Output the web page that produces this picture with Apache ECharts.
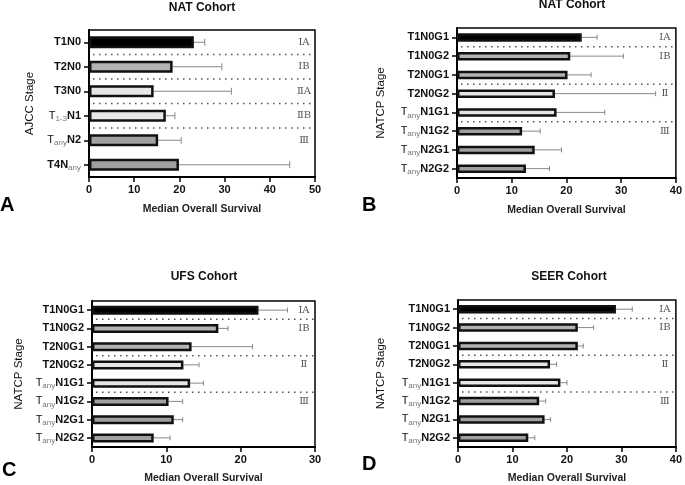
<!DOCTYPE html>
<html>
<head>
<meta charset="utf-8">
<script src="https://cdn.jsdelivr.net/npm/echarts@6/dist/echarts.min.js"></script>
<style>html,body{margin:0;padding:0;background:#fff}#c{width:685px;height:485px}</style>
</head>
<body>
<div id="c"></div>
<script>
// ---- Panel A: NAT Cohort, AJCC ----
const A_cats = ['T1N0','T2N0','T3N0','T_{1-3}N1','T_{any}N2','T4N_{any}'];
const A_vals = [23.2, 18.5, 14.3, 17.0, 15.3, 19.9];
const A_err  = [25.6, 29.4, 31.5, 19.0, 20.4, 44.4];
const A_seps = [0, 1, 2, 3];
const A_stageRows = [0, 1, 2, 3, 4];
const A_stages = ['ⅠA','ⅠB','ⅡA','ⅡB','Ⅲ'];
const A_ticks = [0, 10, 20, 30, 40, 50];

// ---- Panel B: NAT Cohort, NATCP ----
const NATCP_cats = ['T1N0G1','T1N0G2','T2N0G1','T2N0G2','T_{any}N1G1','T_{any}N1G2','T_{any}N2G1','T_{any}N2G2'];
const B_vals = [22.8, 20.7, 20.2, 17.9, 18.2, 11.9, 14.2, 12.6];
const B_err  = [25.6, 30.4, 24.5, 36.3, 27.0, 15.2, 19.1, 16.9];
const B_ticks = [0, 10, 20, 30, 40];

// ---- Panel C: UFS Cohort ----
const C_vals = [22.4, 17.0, 13.4, 12.3, 13.2, 10.3, 11.0, 8.3];
const C_err  = [26.3, 18.3, 21.6, 14.4, 15.0, 12.2, 12.2, 10.5];
const C_ticks = [0, 10, 20, 30];

// ---- Panel D: SEER Cohort ----
const D_vals = [29.0, 22.0, 22.0, 16.9, 18.8, 14.9, 15.9, 12.9];
const D_err  = [32.0, 24.9, 23.0, 18.1, 20.0, 16.1, 17.0, 14.1];
const D_ticks = [0, 10, 20, 30, 40];

const NATCP_seps = [0, 2, 4];
const NATCP_stageRows = [0, 1, 3, 5];
const NATCP_stages = ['ⅠA','ⅠB','Ⅱ','Ⅲ'];

// styles (fill groups)
const A_fill = ['k','g','l','l','d','d'];
const NATCP_fill = ['k','g','g','l','l','d','d','d'];
const fillMap = {k:'#000000', g:'#b3b3b3', l:'#e6e6e6', d:'#a0a0a0'};

const panels = [
  {cats:A_cats, vals:A_vals, err:A_err, seps:A_seps, stageRows:A_stageRows, stages:A_stages, ticks:A_ticks, fill:A_fill,
   title:'NAT Cohort', yName:'AJCC Stage', letter:'A',
   grid:{left:89, right:370, top:30, bottom:308}, barW:12, cap:7, yGap:53, xGap:27,
   titlePos:[202,8], letterPos:[0,205]},
  {cats:NATCP_cats, vals:B_vals, err:B_err, seps:NATCP_seps, stageRows:NATCP_stageRows, stages:NATCP_stages, ticks:B_ticks, fill:NATCP_fill,
   title:'NAT Cohort', yName:'NATCP Stage', letter:'B',
   grid:{left:457, right:7, top:28, bottom:307}, barW:8.5, cap:5, yGap:70, xGap:27,
   titlePos:[572,5], letterPos:[362,205]},
  {cats:NATCP_cats, vals:C_vals, err:C_err, seps:NATCP_seps, stageRows:NATCP_stageRows, stages:NATCP_stages, ticks:C_ticks, fill:NATCP_fill,
   title:'UFS Cohort', yName:'NATCP Stage', letter:'C',
   grid:{left:92, right:370, top:301, bottom:37}, barW:9, cap:5, yGap:67, xGap:26,
   titlePos:[204,277], letterPos:[2,470]},
  {cats:NATCP_cats, vals:D_vals, err:D_err, seps:NATCP_seps, stageRows:NATCP_stageRows, stages:NATCP_stages, ticks:D_ticks, fill:NATCP_fill,
   title:'SEER Cohort', yName:'NATCP Stage', letter:'D',
   grid:{left:458, right:6, top:300, bottom:37}, barW:8.5, cap:5, yGap:71, xGap:26,
   titlePos:[569,277], letterPos:[362,464]}
];

function fmtCat(s){
  const m = s.match(/^(.*?)_\{(.*?)\}(.*)$/);
  if (!m) return '{b|' + s + '}';
  const pre = m[1], sub = m[2], post = m[3];
  const preStyle = pre === 'T' ? 't' : 'b';
  return (pre ? '{' + preStyle + '|' + pre + '}' : '') + '{s|' + sub + '}' + (post ? '{b|' + post + '}' : '');
}

const FONT = 'Liberation Sans, Arial, sans-serif';
const grids = [], xAxes = [], yAxes = [], series = [], graphics = [];

panels.forEach((p, i) => {
  grids.push(Object.assign({show:true, borderColor:'#000', borderWidth:1.5, backgroundColor:'transparent', containLabel:false}, p.grid));
  const tmax = p.ticks[p.ticks.length-1];
  xAxes.push({
    type:'value', gridIndex:i, min:p.ticks[0], max:tmax, interval:p.ticks[1]-p.ticks[0],
    name:'Median Overall Survival', nameLocation:'middle', nameGap:p.xGap,
    nameTextStyle:{fontFamily:FONT, fontWeight:'bold', fontSize:10.5, color:'#222'},
    axisLine:{show:true, lineStyle:{color:'#000', width:2}},
    axisTick:{show:true, length:5, lineStyle:{color:'#000', width:1.5}},
    axisLabel:{margin:7, fontFamily:FONT, fontWeight:'bold', fontSize:11, color:'#111'},
    splitLine:{show:false}
  });
  yAxes.push({
    type:'category', gridIndex:i, data:p.cats, inverse:true,
    name:p.yName, nameLocation:'middle', nameGap:p.yGap, nameRotate:90,
    nameTextStyle:{fontFamily:FONT, fontWeight:'normal', fontSize:11.5, color:'#111'},
    axisLine:{show:true, lineStyle:{color:'#000', width:2}},
    axisTick:{show:true, alignWithLabel:true, length:5, lineStyle:{color:'#000', width:1.5}},
    axisLabel:{margin:8, formatter:fmtCat, rich:{
      b:{fontFamily:FONT, fontWeight:'bold', fontSize:11, color:'#111', lineHeight:14},
      t:{fontFamily:FONT, fontWeight:'normal', fontSize:11, color:'#111', lineHeight:14},
      s:{fontFamily:FONT, fontWeight:'normal', fontSize:8, color:'#777', lineHeight:10, verticalAlign:'bottom'}
    }},
    splitLine:{show:false}
  });
  // separators
  series.push({
    type:'custom', xAxisIndex:i, yAxisIndex:i, silent:true, z:1,
    data:p.seps.map(s => [0, s]),
    renderItem:function(params, api){
      const r = api.value(1);
      const a = api.coord([0, r]), b = api.coord([0, r+1]);
      const y = (a[1]+b[1])/2;
      const cs = params.coordSys;
      return {type:'line', shape:{x1:cs.x+4, y1:y, x2:cs.x+cs.width-1, y2:y},
        style:{stroke:'#555', lineWidth:1.5, lineDash:[1.5,4.5]}};
    }
  });
  // error bars
  series.push({
    type:'custom', xAxisIndex:i, yAxisIndex:i, silent:true, z:2,
    data:p.vals.map((v, j) => [j, v, p.err[j]]),
    encode:{x:[1,2], y:0},
    renderItem:function(params, api){
      const r = api.value(0);
      const a = api.coord([api.value(1), r]), b = api.coord([api.value(2), r]);
      const cap = p.cap;
      return {type:'group', children:[
        {type:'line', shape:{x1:a[0], y1:a[1], x2:b[0], y2:b[1]}, style:{stroke:'#888', lineWidth:1}},
        {type:'line', shape:{x1:b[0], y1:b[1]-cap/2, x2:b[0], y2:b[1]+cap/2}, style:{stroke:'#888', lineWidth:1}}
      ]};
    }
  });
  // bars
  series.push({
    type:'bar', xAxisIndex:i, yAxisIndex:i, barWidth:p.barW, z:3, silent:true,
    data:p.vals.map((v, j) => ({value:v, itemStyle:{color:fillMap[p.fill[j]]}})),
    itemStyle:{borderColor:'#111', borderWidth:2.5}
  });
  // stage labels
  series.push({
    type:'custom', xAxisIndex:i, yAxisIndex:i, silent:true, z:4,
    data:p.stageRows.map(r => [0, r]),
    renderItem:function(params, api){
      const pt = api.coord([0, api.value(1)]);
      const cs = params.coordSys;
      return {type:'text', x:cs.x+cs.width-11, y:pt[1],
        style:{text:p.stages[params.dataIndex], fill:'#555', font:'10px "DejaVu Serif", "Noto Sans CJK SC", serif', align:'center', verticalAlign:'middle'}};
    }
  });
  graphics.push({type:'text', x:p.titlePos[0], y:p.titlePos[1], style:{text:p.title, font:'bold 12px ' + FONT, fill:'#111', align:'center', verticalAlign:'middle'}});
  graphics.push({type:'text', x:p.letterPos[0], y:p.letterPos[1], style:{text:p.letter, font:'bold 20px ' + FONT, fill:'#000', verticalAlign:'middle'}});
});

const chart = echarts.init(document.getElementById('c'), null, {renderer:'canvas'});
chart.setOption({
  animation:false,
  backgroundColor:'#fff',
  grid:grids, xAxis:xAxes, yAxis:yAxes, series:series, graphic:graphics
});
</script>
</body>
</html>
